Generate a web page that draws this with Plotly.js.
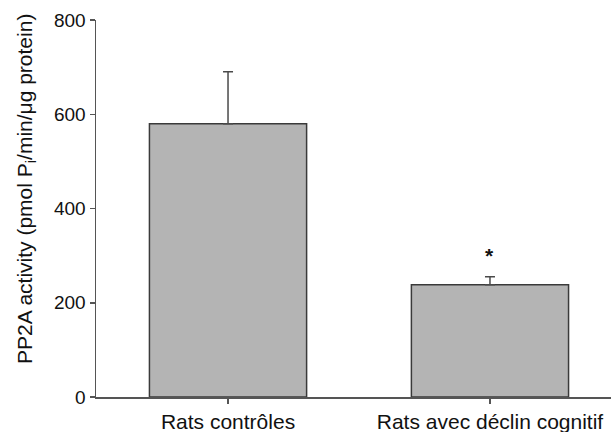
<!DOCTYPE html>
<html>
<head>
<meta charset="utf-8">
<script src="https://cdn.plot.ly/plotly-3.0.1.min.js"></script>
<style>html,body{margin:0;padding:0;background:#fff;}#chart{width:611px;height:432px;}</style>
</head>
<body>
<div id="chart"></div>
<script>
const categories = ["Rats contrôles", "Rats avec déclin cognitif"];
const means = [580, 238];
const sem = [110, 17];
const significance = ["", "*"];
const yTicks = [0, 200, 400, 600, 800];

const xPos = categories.map((c, i) => i);

const trace = {
  type: "bar",
  x: xPos,
  y: means,
  width: 0.6,
  marker: {color: "#b4b4b4", line: {color: "#3a3a3a", width: 1.5}},
  error_y: {type: "data", symmetric: false, array: sem, arrayminus: means.map(() => 0),
            color: "#4a4a4a", thickness: 1.5, width: 5},
  hoverinfo: "none"
};

const FONT = "Liberation Sans, Arial, Helvetica, sans-serif";
const annotations = [];
significance.forEach((s, i) => {
  if (s) annotations.push({x: xPos[i], y: means[i] + sem[i], yshift: 21, text: "<b>" + s + "</b>",
    showarrow: false, font: {family: FONT, size: 21, color: "#111"},
    xanchor: "center", yanchor: "middle"});
});
annotations.push({xref: "paper", yref: "paper", x: -0.137, y: 0.553, textangle: -90,
  text: "PP2A activity (pmol P<sub>i</sub>/min/μg protein)", showarrow: false,
  font: {family: FONT, size: 21, color: "#111"},
  xanchor: "center", yanchor: "middle"});

const layout = {
  width: 611, height: 432,
  margin: {l: 96, r: 0, t: 20, b: 35},
  paper_bgcolor: "#fff", plot_bgcolor: "#fff",
  showlegend: false,
  font: {family: FONT, size: 19, color: "#111"},
  xaxis: {range: [-0.504, 1.462], tickvals: xPos, ticktext: categories,
          showline: true, linecolor: "#555", linewidth: 1.5, ticks: "outside", ticklen: 5,
          tickcolor: "#555", tickwidth: 1.5, showgrid: false, zeroline: false,
          tickfont: {size: 21}, fixedrange: true},
  yaxis: {range: [0, 800], tickvals: yTicks, showline: true, linecolor: "#555", linewidth: 1.5,
          ticks: "outside", ticklen: 5, tickcolor: "#555", tickwidth: 1.5, showgrid: false,
          zeroline: false, tickfont: {size: 19}, fixedrange: true},
  annotations: annotations
};

Plotly.newPlot("chart", [trace], layout, {staticPlot: true, displayModeBar: false});
</script>
</body>
</html>
